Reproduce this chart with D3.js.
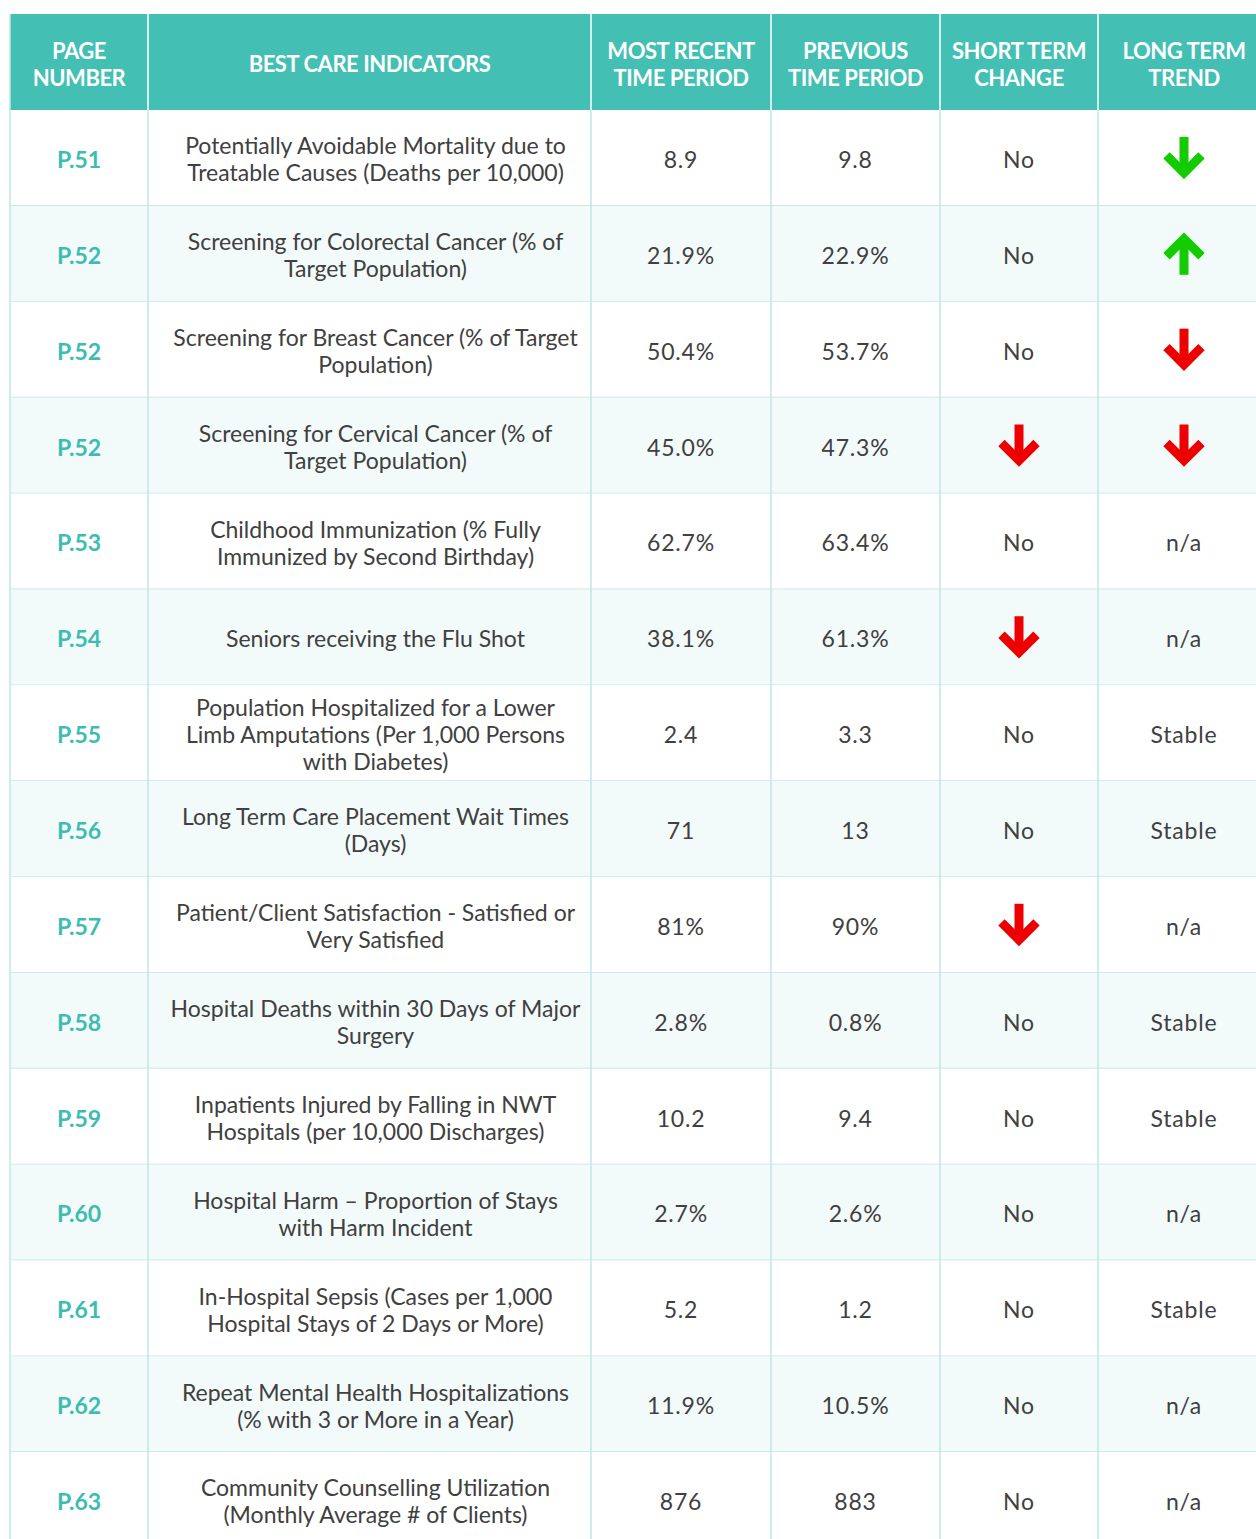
<!DOCTYPE html>
<html><head><meta charset="utf-8">
<script src="https://cdn.jsdelivr.net/npm/d3@7"></script>
<style>
body{margin:0;background:#fff;}
svg text{font-family:Lato,"Open Sans",sans-serif;}
</style></head>
<body><svg id="chart" width="1256" height="1539"></svg>
<script>
const headers = [["PAGE","NUMBER"],["BEST CARE INDICATORS"],["MOST RECENT","TIME PERIOD"],["PREVIOUS","TIME PERIOD"],["SHORT TERM","CHANGE"],["LONG TERM","TREND"]];
const pages = ["P.51","P.52","P.52","P.52","P.53","P.54","P.55","P.56","P.57","P.58","P.59","P.60","P.61","P.62","P.63"];
const indicators = [
 ["Potentially Avoidable Mortality due to","Treatable Causes (Deaths per 10,000)"],
 ["Screening for Colorectal Cancer (% of","Target Population)"],
 ["Screening for Breast Cancer (% of Target","Population)"],
 ["Screening for Cervical Cancer (% of","Target Population)"],
 ["Childhood Immunization (% Fully","Immunized by Second Birthday)"],
 ["Seniors receiving the Flu Shot"],
 ["Population Hospitalized for a Lower","Limb Amputations (Per 1,000 Persons","with Diabetes)"],
 ["Long Term Care Placement Wait Times","(Days)"],
 ["Patient/Client Satisfaction - Satisfied or","Very Satisfied"],
 ["Hospital Deaths within 30 Days of Major","Surgery"],
 ["Inpatients Injured by Falling in NWT","Hospitals (per 10,000 Discharges)"],
 ["Hospital Harm \u2013 Proportion of Stays","with Harm Incident"],
 ["In-Hospital Sepsis (Cases per 1,000","Hospital Stays of 2 Days or More)"],
 ["Repeat Mental Health Hospitalizations","(% with 3 or More in a Year)"],
 ["Community Counselling Utilization","(Monthly Average # of Clients)"]
];
const recent = ["8.9","21.9%","50.4%","45.0%","62.7%","38.1%","2.4","71","81%","2.8%","10.2","2.7%","5.2","11.9%","876"];
const previous = ["9.8","22.9%","53.7%","47.3%","63.4%","61.3%","3.3","13","90%","0.8%","9.4","2.6%","1.2","10.5%","883"];
// "down-red", "down-green", "up-green" are arrow symbols
const shortTerm = ["No","No","No","down-red","No","down-red","No","No","down-red","No","No","No","No","No","No"];
const longTerm = ["down-green","up-green","down-red","down-red","n/a","n/a","Stable","Stable","n/a","Stable","Stable","n/a","Stable","n/a","n/a"];

const colEdges = [10,148,591,771,940,1098,1270];
const headTop = 14, headBottom = 110, rowH = 95.86;
const svg = d3.select("#chart");

const y = d3.scaleBand().domain(d3.range(pages.length)).range([headBottom, headBottom + rowH*pages.length]).padding(0);
const colX = d3.scaleOrdinal().domain(d3.range(6)).range(colEdges.slice(0,6));
const colW = i => colEdges[i+1]-colEdges[i];
const colShift = [0,6,0,0,0,0];
const colC = i => colX(i) + colW(i)/2 + colShift[i];

const teal = "#43bfb4", grid = "#bfe7e3", alt = "#f3fafa", txt = "#404040";

// header
svg.append("rect").attr("x",colEdges[0]).attr("y",headTop).attr("width",colEdges[6]-colEdges[0]).attr("height",headBottom-headTop).attr("fill",teal);
headers.forEach((h,i)=>{
  const t = svg.append("text").attr("text-anchor","middle").attr("fill","#fff").attr("font-weight","bold").attr("font-size",22).attr("letter-spacing",-0.45);
  const mid = (headTop+headBottom)/2;
  h.forEach((line,j)=>{
    t.append("tspan").attr("x",colX(i)+colW(i)/2).attr("y", mid + (j-(h.length-1)/2)*27 + 10).text(line);
  });
});

// rows
const rows = svg.selectAll("g.row").data(pages.map((p,i)=>i)).join("g").attr("class","row");
rows.append("rect").attr("x",colEdges[0]).attr("y",i=>y(i)).attr("width",colEdges[6]-colEdges[0]).attr("height",y.bandwidth()).attr("fill",i=>i%2? alt : "#fff");

// grid lines
rows.append("line").attr("x1",colEdges[0]).attr("x2",colEdges[6]).attr("y1",i=>y(i)+y.bandwidth()).attr("y2",i=>y(i)+y.bandwidth()).attr("stroke",grid).attr("stroke-width",1.5);
colEdges.slice(0,6).forEach((x,k)=>{
  svg.append("line").attr("x1",x).attr("x2",x).attr("y1",headTop).attr("y2",1539).attr("stroke",grid).attr("stroke-width",1.5);
});
// header vertical separators (white-ish)
colEdges.slice(1,6).forEach(x=>{
  svg.append("line").attr("x1",x).attr("x2",x).attr("y1",headTop).attr("y2",headBottom).attr("stroke","#e6f6f4").attr("stroke-width",1.5);
});

function cellText(i, col, lines, opts={}) {
  const cy = y(i)+y.bandwidth()/2;
  const t = svg.append("text").attr("text-anchor","middle").attr("fill",opts.fill||txt).attr("font-size",opts.size||23).attr("font-weight",opts.weight||"normal").attr("letter-spacing",opts.ls!=null?opts.ls:0);
  lines.forEach((line,j)=>{
    t.append("tspan").attr("x",colC(col)).attr("y", cy + (j-(lines.length-1)/2)*27 + 10).text(line);
  });
}

function arrow(i, col, kind) {
  const cx = colX(col)+colW(col)/2, cy = y(i)+y.bandwidth()/2;
  const color = kind.endsWith("green") ? "#12cc00" : "#ee0000";
  const dir = kind.startsWith("up") ? -1 : 1;
  const g = svg.append("g").attr("transform",`translate(${cx},${cy}) scale(1,${dir})`);
  g.append("rect").attr("x",-4.5).attr("y",-21).attr("width",9).attr("height",34).attr("fill",color);
  g.append("path").attr("d","M-17.5,-2.5 L0,15 L17.5,-2.5").attr("fill","none").attr("stroke",color).attr("stroke-width",9).attr("stroke-linejoin","miter").attr("stroke-miterlimit",4);
}

pages.forEach((p,i)=>{
  cellText(i,0,[p],{fill:"#3dbcb0",weight:"bold",ls:0});
  cellText(i,1,indicators[i]);
  cellText(i,2,[recent[i]],{ls:0.8});
  cellText(i,3,[previous[i]],{ls:0.8});
  [[4,shortTerm[i]],[5,longTerm[i]]].forEach(([c,v])=>{
    if (v.includes("-")) arrow(i,c,v); else cellText(i,c,[v],{ls:0.8});
  });
});
</script></body></html>
